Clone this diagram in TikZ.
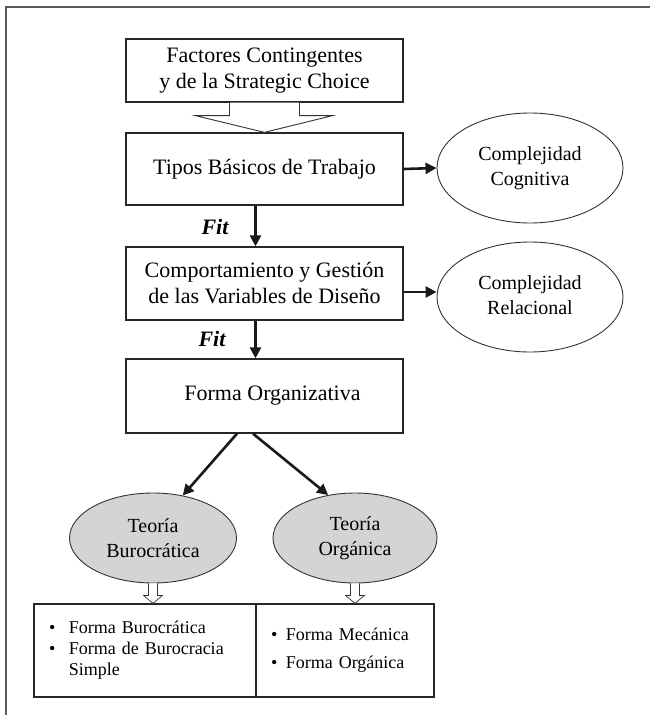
\documentclass[tikz,border=0pt]{standalone}
\usepackage{fontspec}
\setmainfont{Liberation Serif}
\usetikzlibrary{shapes.geometric,calc,arrows.meta}
\begin{document}
\begin{tikzpicture}[x=1pt,y=-1pt,
  box/.style={draw=black!85,line width=1.3pt,rectangle,minimum width=277pt,inner sep=0pt,align=center,font=\fontsize{22}{26}\selectfont},
  ell/.style={draw=black!80,line width=0.9pt,ellipse,inner sep=0pt,align=center,font=\fontsize{20}{24.5}\selectfont},
  grayell/.style={ell,fill=black!17},
  lst/.style={draw=black!85,line width=1.3pt,rectangle,inner ysep=0pt,inner xsep=15pt,minimum height=93pt,align=left,font=\fontsize{18}{21}\selectfont},
  arr/.style={draw=black!90,line width=2.6pt,-{Triangle[length=11pt,width=11pt]}},
  hollow/.style={draw=black!80,line width=0.9pt,fill=white,line join=miter},
  fitlbl/.style={font=\fontsize{22}{26}\selectfont\bfseries\itshape}]
\useasboundingbox (0,0) rectangle (650,715);
% outer frame
\draw[black!65,line width=2pt] (5.5,715) -- (5.5,6.5) -- (650,6.5);

% boxes
\node[box,minimum height=63pt] (fac) at (264.5,70.5) {Factores Contingentes\\y de la Strategic Choice};
\node[box,minimum height=72pt] (tipos) at (264.5,169) {Tipos Básicos de Trabajo};
\node[box,minimum height=73pt] (comp) at (264.5,283.5) {Comportamiento y Gestión\\de las Variables de Diseño};
\node[box,minimum height=74pt] (forma) at (264.5,396) {\hspace{16pt}Forma Organizativa};

% right ellipses
\node[ell,minimum width=186pt,minimum height=110pt] (cc) at (530,168)
  {\raisebox{8pt}{\begin{tabular}{@{}c@{}}Complejidad\\Cognitiva\end{tabular}}};
\node[ell,minimum width=186pt,minimum height=110pt] (cr) at (530,297)
  {\raisebox{8pt}{\begin{tabular}{@{}c@{}}Complejidad\\Relacional\end{tabular}}};

% gray ellipses
\node[grayell,minimum width=167pt,minimum height=90pt] (tb) at (153,538) {Teoría\\Burocrática};
\node[grayell,minimum width=164pt,minimum height=90pt] (to) at (355,538) {Teoría\\Orgánica};

% bottom boxes
\node[lst,text width=192pt] (bl) at (145,650.5)
  {\raisebox{2pt}{\begin{tabular}{@{}l@{\hspace{13.5pt}}l@{}}\textbullet & Forma Burocrática\\ \textbullet & Forma de Burocracia\\ & Simple\end{tabular}}};
\node[lst,text width=148pt] (br) at (345,650.5)
  {\raisebox{7pt}{\begin{tabular}{@{}l@{\hspace{8.5pt}}l@{}}\textbullet & Forma Mecánica\\[7pt] \textbullet & Forma Orgánica\end{tabular}}};

% hollow arrow from factores
\draw[hollow] ($(fac.south)+(-35,0)$) |- ($(fac.south)+(-69,13)$) -- (tipos.north)
  -- ($(fac.south)+(68,13)$) -| ($(fac.south)+(35,0)$);

% vertical arrows with Fit
\draw[arr] ($(tipos.south)+(-9,0)$) -- ($(comp.north)+(-9,0)$);
\node[fitlbl] (fit1) at (215,227) {Fit};
\draw[arr] ($(comp.south)+(-9,0)$) -- ($(forma.north)+(-9,0)$);
\node[fitlbl] (fit2) at (212,339) {Fit};

% horizontal arrows
\draw[arr] (tipos.east) -- (cc.west);
\draw[arr] ($(comp.east)+(0,8.5)$) -- ($(cr.west)+(0,-5)$);

% diagonal arrows
\draw[arr] ($(forma.south)+(-27.5,0)$) -- (tb.55);
\draw[arr] ($(forma.south)+(-11.5,0)$) -- (to.122);

% small hollow arrows
\draw[hollow,line width=0.7pt] ($(tb.south)+(-4.5,0)$) |- ($(tb.south)+(-9.5,12)$) -- (tb.south |- bl.north)
  -- ($(tb.south)+(9.5,12)$) -| ($(tb.south)+(4.5,0)$);
\draw[hollow,line width=0.7pt] ($(to.south)+(-4.5,0)$) |- ($(to.south)+(-9.5,12)$) -- (to.south |- br.north)
  -- ($(to.south)+(9.5,12)$) -| ($(to.south)+(4.5,0)$);
\end{tikzpicture}
\end{document}
